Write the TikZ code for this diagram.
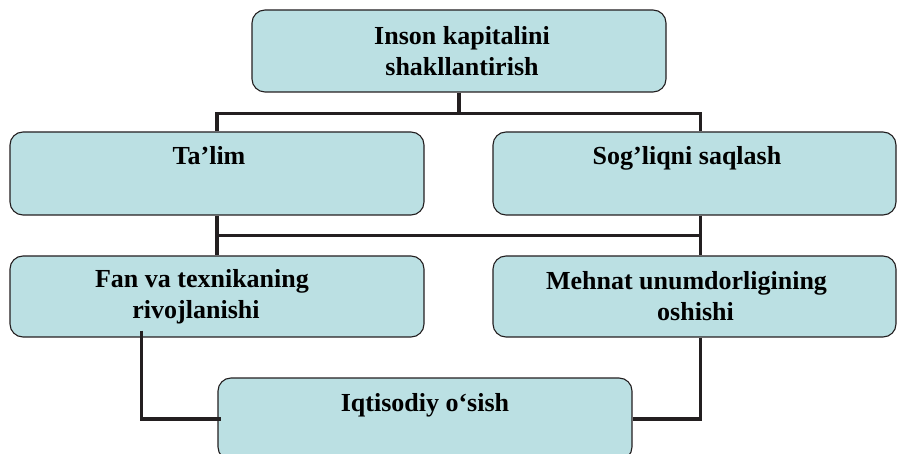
\documentclass[tikz,border=0pt]{standalone}
\usepackage{fontspec}
\setmainfont{Liberation Serif}
\usetikzlibrary{calc}
\definecolor{boxfill}{HTML}{BBE0E3}
\definecolor{lineclr}{HTML}{231F20}
\begin{document}
\begin{tikzpicture}[x=1pt,y=-1pt,
  box/.style={draw=lineclr, line width=1.1pt, fill=boxfill, rounded corners=13pt,
    inner sep=0pt, font=\bfseries\fontsize{26}{31}\selectfont},
  conn/.style={draw=lineclr, line width=3.9pt, line join=miter}]
\clip (0,0) rectangle (897,454);
\useasboundingbox (0,0) rectangle (897,454);
% boxes
\node[box] (top) at (459,51)
  {\parbox[c][82pt][c]{414pt}{\centering\hspace*{6pt}Inson kapitalini\\\hspace*{6pt}shakllantirish}};
\node[box] (tal) at (217,173.5)
  {\parbox[c][83pt][t]{414pt}{\centering\rule{0pt}{33pt}\hspace*{-16pt}Ta’lim}};
\node[box] (sog) at (694.5,173.5)
  {\parbox[c][83pt][t]{403pt}{\centering\rule{0pt}{33pt}\hspace*{-15pt}Sog’liqni saqlash}};
\node[box] (fan) at (217,296.5)
  {\parbox[c][81pt][c]{414pt}{\centering\hspace*{-30pt}Fan va texnikaning\\\hspace*{-42pt}rivojlanishi}};
\node[box] (meh) at (694.5,296.5)
  {\parbox[c][81pt][c]{403pt}{\centering\hspace*{-16pt}Mehnat unumdorligining\\\hspace*{2pt}oshishi}};
\node[box] (iq) at (425,419)
  {\parbox[c][82pt][t]{414pt}{\centering\rule{0pt}{33pt}Iqtisodiy o‘sish}};
% helper coordinates
\coordinate (j1) at ($(top.south)+(0,21)$);
\coordinate (sogn) at ($(sog.north west)+(208,0)$);
\coordinate (sogs) at ($(sog.south west)+(208,0)$);
\coordinate (mehn) at ($(meh.north west)+(208,0)$);
\coordinate (mehs) at ($(meh.south west)+(208,0)$);
\coordinate (fans) at ($(fan.south west)+(132,-7)$);
\coordinate (j2) at ($(tal.south)!0.5!(fan.north)$);
% connectors
\draw[conn] (top.south) -- (j1);
\draw[conn] (tal.north) |- (j1) -| (sogn);
\draw[conn] (tal.south) -- (fan.north);
\draw[conn] (sogs) -- (mehn);
\draw[conn] (j2) -- (j2 -| sogs);
\draw[conn] (fans) |- ($(iq.west)+(4,0)$);
\draw[conn] (mehs) |- (iq.east);
\end{tikzpicture}
\end{document}
